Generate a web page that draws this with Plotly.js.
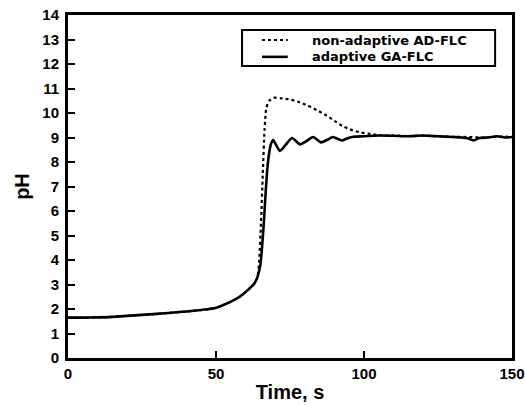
<!DOCTYPE html>
<html><head><meta charset="utf-8">
<script src="https://cdn.plot.ly/plotly-3.0.1.min.js"></script>
<style>html,body{margin:0;padding:0;background:#fff}</style>
</head><body>
<div id="chart" style="width:525px;height:406px"></div>
<script>
var baseT  = [0,5,10,15,20,25,30,35,40,45,50,55,58,61,63,64];
var baseY  = [1.65,1.65,1.66,1.68,1.72,1.76,1.8,1.85,1.9,1.96,2.05,2.3,2.5,2.8,3.05,3.3];
var nonAdT = [64.6,65.2,65.8,66.4,67,68,69.5,72,75,78,81,84,87,90,93,96,99,102,105,110,115,120,125,130,135,140,145,150];
var nonAdY = [4.0,5.5,7.5,9.3,10.2,10.5,10.62,10.6,10.55,10.45,10.3,10.12,9.92,9.68,9.45,9.3,9.2,9.15,9.1,9.08,9.06,9.08,9.05,9.03,9.02,9.0,9.04,9.02];
var adT    = [65,65.6,66.2,66.8,67.4,68,68.6,69.3,70.3,71.6,73.5,75.7,78.4,80.5,82.8,85.5,87.5,89.5,92.5,94.5,96.5,100,105,110,115,120,125,130,133,135,137,139,142,145,148,150];
var adY    = [3.8,4.6,5.6,6.8,7.8,8.4,8.75,8.9,8.7,8.45,8.7,8.98,8.72,8.85,9.02,8.8,8.9,9.02,8.88,8.97,9.03,9.05,9.08,9.07,9.05,9.08,9.05,9.02,9.0,8.97,8.88,8.98,9.0,9.05,9.0,9.02];
var xTicks = [0,50,100,150];
var yTicks = [0,1,2,3,4,5,6,7,8,9,10,11,12,13,14];
var names  = ['non-adaptive AD-FLC','adaptive GA-FLC'];

var fam = 'Liberation Sans, Arial, sans-serif';
var legFam = 'DejaVu Sans, Verdana, sans-serif';
var traces = [
  {x: baseT.concat(nonAdT), y: baseY.concat(nonAdY), mode:'lines', name:names[0],
   line:{color:'#000', width:2.2, dash:'dot', shape:'spline', smoothing:0.6}},
  {x: baseT.concat(adT), y: baseY.concat(adY), mode:'lines', name:names[1],
   line:{color:'#000', width:2.6, shape:'spline', smoothing:0.6}}
];
var shapes = [
  {type:'rect', xref:'paper', yref:'paper', x0:0.392, x1:0.962, y0:0.851, y1:0.956,
   line:{color:'#000', width:2}, fillcolor:'#fff', layer:'above'},
  {type:'line', xref:'paper', yref:'paper', x0:0.437, x1:0.495, y0:0.927, y1:0.927,
   line:{color:'#000', width:2, dash:'dot'}, layer:'above'},
  {type:'line', xref:'paper', yref:'paper', x0:0.437, x1:0.495, y0:0.878, y1:0.878,
   line:{color:'#000', width:2.6}, layer:'above'}
];
var annotations = [
  {xref:'paper', yref:'paper', x:0.548, y:0.927, xanchor:'left', yanchor:'middle', showarrow:false, borderpad:0,
   text:names[0], font:{family:legFam, size:13, color:'#000', weight:'bold'}},
  {xref:'paper', yref:'paper', x:0.548, y:0.878, xanchor:'left', yanchor:'middle', showarrow:false, borderpad:0,
   text:names[1], font:{family:legFam, size:13, color:'#000', weight:'bold'}}
];
var tickFont = {family:fam, size:15, color:'#000', weight:'bold'};
var titleFont = {family:fam, size:20, color:'#000', weight:'bold'};
var layout = {
  width:525, height:406,
  margin:{l:68, r:13, t:15, b:48},
  paper_bgcolor:'#fff', plot_bgcolor:'#fff',
  showlegend:false,
  shapes:shapes, annotations:annotations,
  xaxis:{range:[0,150], tickvals:xTicks, ticktext:xTicks.map(String), ticks:'inside', ticklen:7, tickwidth:2,
         tickcolor:'#000', showline:true, linewidth:3, linecolor:'#000', mirror:true, showgrid:false, zeroline:false,
         tickfont:tickFont, ticklabeloverflow:'allow',
         title:{text:'Time, s', font:titleFont, standoff:4}},
  yaxis:{range:[0,14], tickvals:yTicks, ticktext:yTicks.map(String), ticks:'inside', ticklen:7, tickwidth:2,
         tickcolor:'#000', showline:true, linewidth:3, linecolor:'#000', mirror:true, showgrid:false, zeroline:false,
         tickfont:tickFont, ticklabelstandoff:3,
         title:{text:'pH', font:titleFont, standoff:8}}
};
Plotly.newPlot('chart', traces, layout, {displayModeBar:false, staticPlot:true});
</script>
</body></html>
